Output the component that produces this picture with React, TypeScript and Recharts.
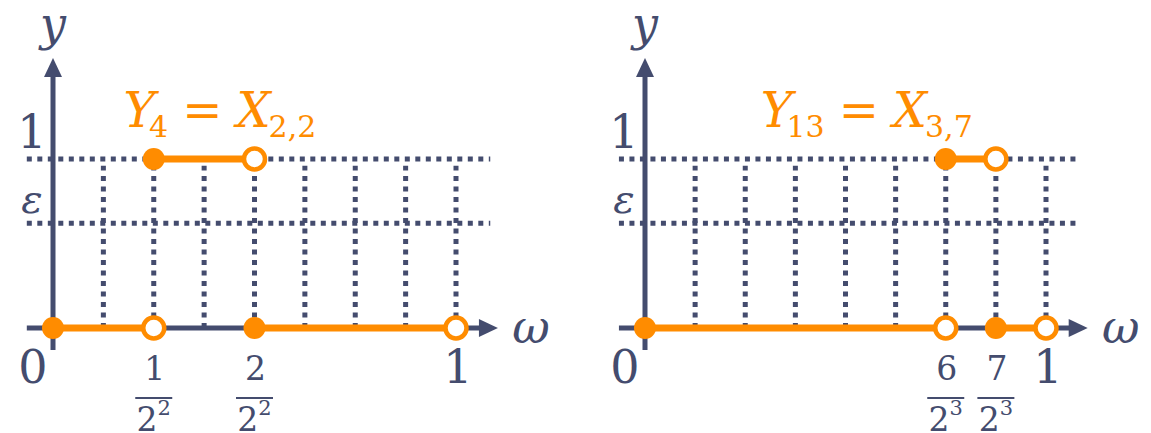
import React from 'react';
import { LineChart, Line, XAxis, YAxis, ReferenceLine, ReferenceDot } from 'recharts';

const ORANGE = '#ff8c00';
const SLATE = '#444c6e';
const SERIF = '"DejaVu Serif", serif';

// height of the ε level on the y axis
const EPS = 0.62;
const GRID_X = [0.125, 0.25, 0.375, 0.5, 0.625, 0.75, 0.875, 1];
const GRID_Y = [EPS, 1];
const Y_TICKS = [EPS, 1];
const Y_TICK_LABELS = ['ε', '1'];

// Y4 = X(2,2) : indicator of [1/4, 2/4)
const LEFT_PIECES = [
    { from: 0, to: 0.25, y: 0 },
    { from: 0.25, to: 0.5, y: 1 },
    { from: 0.5, to: 1, y: 0 },
];
const LEFT_TICKS = [0, 0.25, 0.5, 1];
const LEFT_TICK_LABELS = [
    { text: '0' },
    { num: '1', base: '2', exp: '2' },
    { num: '2', base: '2', exp: '2' },
    { text: '1' },
];
const LEFT_TITLE = { lhs: 'Y', lhsSub: '4', rhs: 'X', rhsSub: '2,2' };

// Y13 = X(3,7) : indicator of [6/8, 7/8)
const RIGHT_PIECES = [
    { from: 0, to: 0.75, y: 0 },
    { from: 0.75, to: 0.875, y: 1 },
    { from: 0.875, to: 1, y: 0 },
];
const RIGHT_TICKS = [0, 0.75, 0.875, 1];
const RIGHT_TICK_LABELS = [
    { text: '0' },
    { num: '6', base: '2', exp: '3' },
    { num: '7', base: '2', exp: '3' },
    { text: '1' },
];
const RIGHT_TITLE = { lhs: 'Y', lhsSub: '13', rhs: 'X', rhsSub: '3,7' };

const DOTTED = { stroke: SLATE, strokeWidth: 5, strokeDasharray: '5 5.5' };

// solid axis line ending in a filled arrow head, with its name next to the tip
const arrowShape = (label: string, dx: number, dy: number) => (p: any) => {
    const { x1, y1, x2, y2 } = p;
    const len = Math.hypot(x2 - x1, y2 - y1) || 1;
    const ux = (x2 - x1) / len;
    const uy = (y2 - y1) / len;
    const head = 19;
    const half = 9;
    const bx = x2 - ux * head;
    const by = y2 - uy * head;
    const pts = `${x2},${y2} ${bx - uy * half},${by + ux * half} ${bx + uy * half},${by - ux * half}`;
    return (
        <g>
            <line x1={x1} y1={y1} x2={bx + ux} y2={by + uy} stroke={SLATE} strokeWidth={5} />
            <polygon points={pts} fill={SLATE} />
            <text x={x2 + dx} y={y2 + dy} textAnchor="middle" fontFamily={SERIF} fontStyle="italic" fontSize={46} fill={SLATE}>
                {label}
            </text>
        </g>
    );
};

const renderDot = (p: any) => {
    const { cx, cy, index } = p;
    if (index === 0) {
        return <circle key={`d${index}`} cx={cx} cy={cy} r={11} fill={ORANGE} />;
    }
    return <circle key={`d${index}`} cx={cx} cy={cy} r={10.5} fill="#fff" stroke={ORANGE} strokeWidth={4.5} />;
};

interface PanelProps {
    left: number;
    width: number;
    margin: { top: number; right: number; bottom: number; left: number };
    pieces: { from: number; to: number; y: number }[];
    ticks: number[];
    tickLabels: { text?: string; num?: string; base?: string; exp?: string }[];
    title: { lhs: string; lhsSub: string; rhs: string; rhsSub: string };
    titleAt: { x: number; y: number };
}

function Panel({ left, width, margin, pieces, ticks, tickLabels, title, titleAt }: PanelProps) {
    const renderXTick = (p: any) => {
        const { x, y, payload } = p;
        const i = ticks.findIndex((t) => Math.abs(t - payload.value) < 1e-9);
        const lab = tickLabels[i];
        if (!lab) return <g />;
        if (lab.text) {
            const dx = lab.text === '0' ? -20 : 2;
            return (
                <text x={x + dx} y={y + 55} textAnchor="middle" fontFamily={SERIF} fontSize={46} fill={SLATE}>
                    {lab.text}
                </text>
            );
        }
        return (
            <g>
                <text x={x + 1} y={y + 52} textAnchor="middle" fontFamily={SERIF} fontSize={33} fill={SLATE}>
                    {lab.num}
                </text>
                <line x1={x - 18.5} x2={x + 18.5} y1={y + 70} y2={y + 70} stroke={SLATE} strokeWidth={2} />
                <text x={x} y={y + 103} textAnchor="middle" fontFamily={SERIF} fontSize={33} fill={SLATE}>
                    {lab.base}
                    <tspan fontSize={21} dy={-16}>{lab.exp}</tspan>
                </text>
            </g>
        );
    };

    const renderYTick = (p: any) => {
        const { x, y, payload } = p;
        const i = Y_TICKS.findIndex((t) => Math.abs(t - payload.value) < 1e-9);
        const isEps = Y_TICK_LABELS[i] === 'ε';
        return (
            <text
                x={x - 21}
                y={y - (isEps ? 10 : 11)}
                textAnchor="middle"
                fontFamily={SERIF}
                fontStyle={isEps ? 'italic' : 'normal'}
                fontSize={isEps ? 40 : 46}
                fill={SLATE}
            >
                {Y_TICK_LABELS[i]}
            </text>
        );
    };

    const titleShape = (p: any) => (
        <text x={p.cx} y={p.cy} textAnchor="middle" fontFamily={SERIF} fontSize={48} fill={ORANGE}>
            <tspan fontStyle="italic">{title.lhs}</tspan>
            <tspan fontSize={30} dx={-6} dy={10}>{title.lhsSub}</tspan>
            <tspan dx={14} dy={-10}>=</tspan>
            <tspan dx={14} fontStyle="italic">{title.rhs}</tspan>
            <tspan fontSize={30} dx={-2} dy={10}>{title.rhsSub}</tspan>
        </text>
    );

    return (
        <div style={{ position: 'absolute', left, top: 0 }}>
            <LineChart width={width} height={433} margin={margin}>
                <XAxis
                    type="number"
                    dataKey="x"
                    domain={[0, 1]}
                    ticks={ticks}
                    interval={0}
                    height={60}
                    axisLine={false}
                    tickLine={false}
                    tickSize={0}
                    tickMargin={0}
                    tick={renderXTick}
                />
                <YAxis
                    type="number"
                    domain={[0, 1]}
                    ticks={Y_TICKS}
                    interval={0}
                    width={40}
                    axisLine={false}
                    tickLine={false}
                    tickSize={0}
                    tickMargin={0}
                    tick={renderYTick}
                />
                {GRID_X.map((gx) => (
                    <ReferenceLine key={`gx${gx}`} segment={[{ x: gx, y: 0 }, { x: gx, y: 0.96 }]} ifOverflow="visible" {...DOTTED} />
                ))}
                {GRID_Y.map((gy) => (
                    <ReferenceLine key={`gy${gy}`} segment={[{ x: -0.065, y: gy }, { x: 1.085, y: gy }]} ifOverflow="visible" {...DOTTED} />
                ))}
                <ReferenceLine
                    segment={[{ x: -0.065, y: 0 }, { x: 1.104, y: 0 }]}
                    ifOverflow="visible"
                    shape={arrowShape('ω', 33, 15)}
                />
                <ReferenceLine
                    segment={[{ x: 0, y: -0.13 }, { x: 0, y: 1.598 }]}
                    ifOverflow="visible"
                    shape={arrowShape('y', 0, -18)}
                />
                {pieces.map((pc, i) => (
                    <Line
                        key={`p${i}`}
                        data={[{ x: pc.from, y: pc.y }, { x: pc.to, y: pc.y }]}
                        dataKey="y"
                        type="linear"
                        stroke={ORANGE}
                        strokeWidth={7}
                        dot={renderDot}
                        activeDot={false}
                        isAnimationActive={false}
                    />
                ))}
                <ReferenceDot x={titleAt.x} y={titleAt.y} ifOverflow="visible" shape={titleShape} />
            </LineChart>
        </div>
    );
}

export default function App() {
    return (
        <div style={{ position: 'absolute', left: 0, top: 0, width: 1151, height: 433, background: '#fff' }}>
            <Panel
                left={0}
                width={575}
                margin={{ top: 159, right: 119, bottom: 45, left: 13 }}
                pieces={LEFT_PIECES}
                ticks={LEFT_TICKS}
                tickLabels={LEFT_TICK_LABELS}
                title={LEFT_TITLE}
                titleAt={{ x: 0.414, y: 1.19 }}
            />
            <Panel
                left={575}
                width={576}
                margin={{ top: 159, right: 105, bottom: 45, left: 30 }}
                pieces={RIGHT_PIECES}
                ticks={RIGHT_TICKS}
                tickLabels={RIGHT_TICK_LABELS}
                title={RIGHT_TITLE}
                titleAt={{ x: 0.553, y: 1.19 }}
            />
        </div>
    );
}
